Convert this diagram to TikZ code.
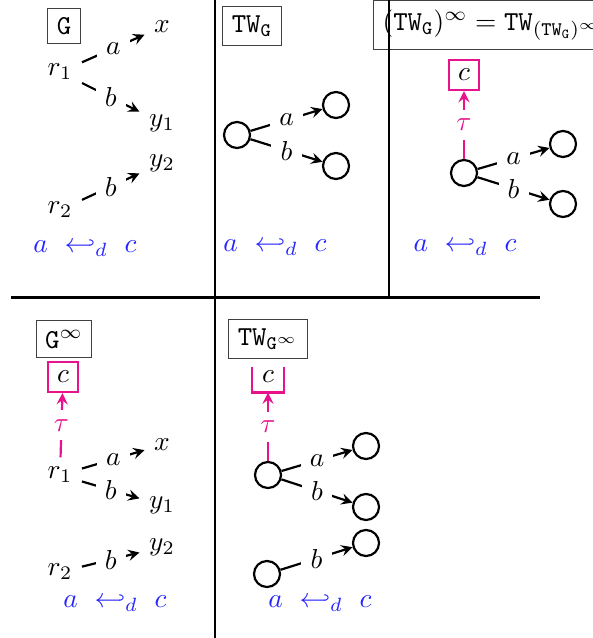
\documentclass[tikz,border=0pt]{standalone}
\usepackage{amsmath,amssymb}
\usepackage{tikz}
\definecolor{taupink}{RGB}{232,18,140}

\begin{document}
\begin{tikzpicture}[x=0.365pt,y=-0.365pt,>=stealth,
 title/.style={rectangle,draw=black!75,fill=white},
 pt/.style={circle,draw,thick,minimum size=9.5pt,inner sep=0pt},
 lab/.style={fill=white},
 edge/.style={thick,->},
 cbox/.style={rectangle,draw=taupink,thick},
 tau/.style={taupink,thick,->},
 inc/.style={text=blue!85}]
\useasboundingbox (0,0) rectangle (592,638);

% G
\node[title] (G) at (64,26) {$\mathtt{G}$};
\node (r1) at (60,72) {$r_1$};
\node (x) at (162,27) {$x$};
\node (y1) at (162,123) {$y_1$};
\node (y2) at (162,163) {$y_2$};
\node (r2) at (60,210) {$r_2$};
\draw[edge] (r1) -- node[lab] {$a$} (x);
\draw[edge] (r1) -- node[lab] {$b$} (y1);
\draw[edge] (r2) -- node[lab] {$b$} (y2);
\node[inc] (inc1) at (85,248) {$a\ \hookleftarrow_d\ c$};

% TW_G
\node[title] (TW) at (252,26) {$\mathtt{TW}_{\mathtt{G}}$};
\node[pt] (t0) at (237,135) {};
\node[pt] (ta) at (336,105) {};
\node[pt] (tb) at (336,166) {};
\draw[edge] (t0) -- node[lab] {$a$} (ta);
\draw[edge] (t0) -- node[lab] {$b$} (tb);
\node[inc] (inc2) at (275,247) {$a\ \hookleftarrow_d\ c$};

% (TW_G)^oo
\node[title,anchor=west] (TWinf) at (373,25)
 {$(\mathtt{TW}_{\mathtt{G}})^\infty = \mathtt{TW}_{(\mathtt{TW}_{\mathtt{G}})^\infty}$};
\node[cbox] (c3) at (464,75) {$c$};
\node[pt] (s0) at (464,173) {};
\node[pt] (sa) at (563,144) {};
\node[pt] (sb) at (563,204) {};
\draw[tau] (s0) -- node[lab] {$\tau$} (c3);
\draw[edge] (s0) -- node[lab] {$a$} (sa);
\draw[edge] (s0) -- node[lab] {$b$} (sb);
\node[inc] (inc3) at (465,247) {$a\ \hookleftarrow_d\ c$};

% G^oo
\node[title] (Ginf) at (64,339) {$\mathtt{G}^\infty$};
\node[cbox] (c4) at (63,377) {$c$};
\node (q1) at (60,475) {$r_1$};
\node (qx) at (162,445) {$x$};
\node (qy1) at (162,505) {$y_1$};
\node (qy2) at (162,547) {$y_2$};
\node (q2) at (60,572) {$r_2$};
\draw[tau] (q1) -- node[lab] {$\tau$} (c4);
\draw[edge] (q1) -- node[lab] {$a$} (qx);
\draw[edge] (q1) -- node[lab] {$b$} (qy1);
\draw[edge] (q2) -- node[lab] {$b$} (qy2);
\node[inc] (inc4) at (115,603) {$a\ \hookleftarrow_d\ c$};

% TW_{G^oo}
\node[title] (TWGinf) at (268,339) {$\mathtt{TW}_{\mathtt{G}^\infty}$};
\node (c5) at (268,377) {$c$};
\draw[taupink,thick] ([yshift=-2.2pt]c5.north west) |- (c5.south east)
 -- ([yshift=-2.2pt]c5.north east);
\node[pt] (u0) at (268,475) {};
\node[pt] (ua) at (366,446) {};
\node[pt] (ub) at (366,507) {};
\node[pt] (uc) at (366,543) {};
\node[pt] (u1) at (267,574) {};
\draw[tau] (u0) -- node[lab] {$\tau$} (c5);
\draw[edge] (u0) -- node[lab] {$a$} (ua);
\draw[edge] (u0) -- node[lab] {$b$} (ub);
\draw[edge] (u1) -- node[lab] {$b$} (uc);
\node[inc] (inc5) at (320,603) {$a\ \hookleftarrow_d\ c$};

% separators
\draw[line width=1pt] (215,0) -- (215,638) (389,0) -- (389,297.5)
 (11,297.5) -- (540,297.5);
\end{tikzpicture}
\end{document}
